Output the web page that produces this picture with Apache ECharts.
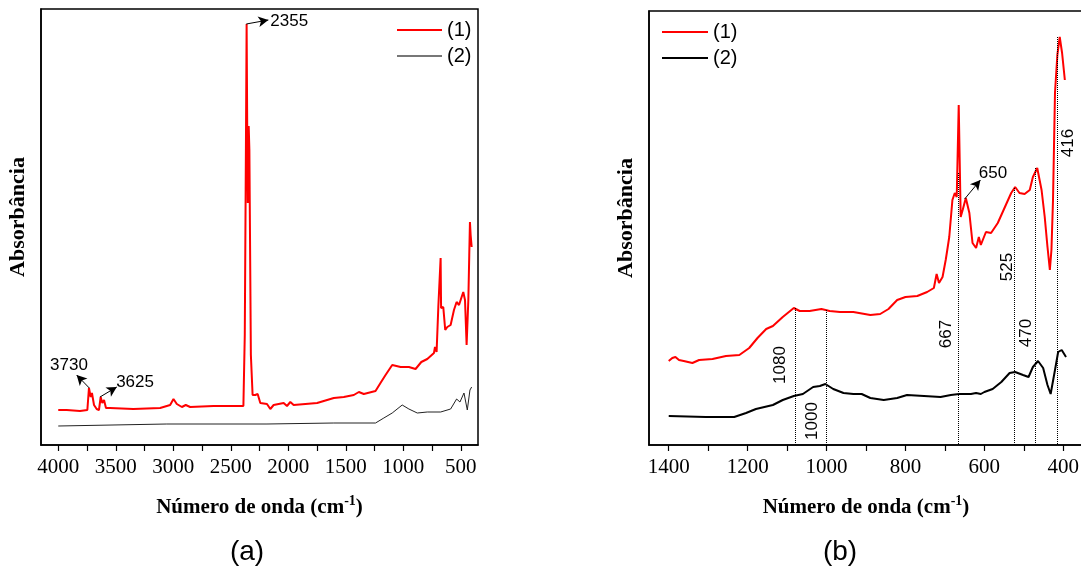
<!DOCTYPE html>
<html>
<head>
<meta charset="utf-8">
<script src="https://cdn.jsdelivr.net/npm/echarts@6/dist/echarts.min.js"></script>
<style>html,body{margin:0;padding:0;background:#fff}#c{width:1081px;height:568px}</style>
</head>
<body>
<div id="c"></div>
<script>
// ---------- DATA ----------
// Panel (a): wavenumber (cm-1) and absorbance (arbitrary units)
const aW1 = [4000,3927,3811,3747,3733,3718,3707,3689,3666,3646,3631,3617,3602,3585,3550,3347,3114,3027,2998,2969,2925,2891,2853,2650,2475,2390,2378,2368,2362,2356,2352,2347,2344,2338,2332,2325,2310,2287,2266,2243,2185,2156,2127,2040,2011,1982,1953,1749,1604,1517,1430,1386,1343,1241,1198,1154,1096,1023,951,893,843,791,733,724,710,695,686,679,675,671,652,635,617,588,559,536,515,501,478,463,449,434,426,420,414,405];
const aA1 = [35,35,34,35,57,48,52,40,36,35,48,42,45,37,37,36,37,40,46,41,38,40,38,39,39,39,110,300,421,300,242,300,319,295,200,90,50,50,51,42,41,36,40,42,39,43,40,42,47,48,50,53,51,54,62,70,80,78,78,76,83,86,92,98,93,138,140,140,187,137,138,115,118,120,135,143,140,142,153,145,100,145,190,223,210,198];
const aW2 = [4000,3056,2185,1604,1241,1169,1096,1009,951,878,791,675,588,536,507,472,443,420,405];
const aA2 = [19,21,21,22,22,27,32,40,36,32,33,33,36,46,43,52,35,55,58];
// Panel (b)
const bW1 = [1400,1391,1383,1374,1362,1340,1323,1289,1255,1221,1196,1175,1153,1136,1111,1083,1068,1043,1013,992,966,932,889,864,843,821,800,770,745,728,721,715,706,698,694,689,681,675,670,665,660,655,647,638,630,621,614,609,596,583,566,549,532,522,511,498,485,477,466,455,447,440,434,430,426,421,415,409,403,396];
const bA1 = [84,87,88,85,84,82,85,86,89,90,97,107,116,119,128,137,134,134,136,134,133,133,130,131,136,145,148,149,153,157,171,162,168,185,195,208,245,252,248,340,228,235,247,232,202,197,208,200,213,212,222,237,252,258,252,251,255,268,277,255,228,198,175,195,245,352,390,408,392,365];
const bW2 = [1400,1306,1234,1204,1179,1136,1111,1083,1060,1034,1017,1003,983,957,932,911,889,855,821,796,753,711,685,664,634,621,609,600,579,557,536,522,502,488,477,464,451,440,432,421,413,404,393];
const bA2 = [29,28,28,32,36,40,45,49,51,58,59,61,56,52,51,51,47,45,47,50,49,48,50,51,51,52,51,53,56,63,72,73,70,68,78,84,77,60,51,75,93,95,88];
// Tick labels
const aTicks = [4000,3750,3500,3250,3000,2750,2500,2250,2000,1750,1500,1250,1000,750,500];
const aLabels = [4000,3500,3000,2500,2000,1500,1000,500];
const bTicks = [1400,1300,1200,1100,1000,900,800,700,600,500,400];
const bLabels = [1400,1200,1000,800,600,400];
// Annotations (data coordinates)
const aArrows = [[[2365,421],[2173,425]],[[3730,57],[3840,70]],[[3637,48],[3491,58]]];
const aTexts = [{t:'2355',c:[2173,424],pos:'right'},{t:'3730',c:[3907,80],pos:'inside'},{t:'3625',c:[3332,63],pos:'inside'}];
const bArrows = [[[650,246],[610,265]]];
const bTexts = [{t:'650',c:[578,272],rot:0},{t:'1080',c:[1116,80],rot:90},{t:'1000',c:[1036,24],rot:90},{t:'667',c:[696,111],rot:90},{t:'525',c:[541,178],rot:90},{t:'470',c:[493,112],rot:90},{t:'416',c:[387,302],rot:90}];
const bPeakLines = [[1080,137],[1000,135],[667,272],[525,257],[470,277],[416,408]];

// ---------- CHART ----------
const zip = (w,a) => w.map((x,i)=>[x,a[i]]);
const SERIF = '"Liberation Serif", "Times New Roman", serif', SANS = '"Liberation Sans", Arial, sans-serif';
const chart = echarts.init(document.getElementById('c'), null, {renderer:'canvas'});

function xAxisCfg(gi, min, max, ticks, labels) {
  return {
    type:'value', gridIndex:gi, inverse:true, min:min, max:max,
    name:'{t|Número de onda (cm}{s|-1}{t|)}', nameLocation:'middle', nameGap:49,
    nameTextStyle:{rich:{t:{fontFamily:SERIF,fontWeight:'bold',fontSize:21,color:'#000'},
                         s:{fontFamily:SERIF,fontWeight:'bold',fontSize:14,color:'#000',padding:[0,0,14,0]}}},
    axisLine:{show:true,onZero:false,lineStyle:{color:'#000',width:1.5}},
    axisTick:{show:true,customValues:ticks,length:6,lineStyle:{color:'#000',width:1.2}},
    axisLabel:{show:true,customValues:labels,margin:12,fontFamily:SERIF,fontSize:21,color:'#000',
               formatter:v=>'{n|'+v+'}',
               rich:{n:{fontFamily:SERIF,fontSize:21,color:'#000'}}},
    splitLine:{show:false}
  };
}
function yAxisCfg(gi, max) {
  return {
    type:'value', gridIndex:gi, min:0, max:max,
    name:'Absorbância', nameLocation:'middle', nameGap:12,
    nameTextStyle:{fontFamily:SERIF,fontWeight:'bold',fontSize:22,color:'#000',padding:[0,0,0,20]},
    axisLine:{show:true,lineStyle:{color:'#000',width:1.5}},
    axisTick:{show:false}, axisLabel:{show:false}, splitLine:{show:false}
  };
}
const arrowLine = arr => ({
  silent:true, symbol:['none','arrow'], symbolSize:[8,10],
  label:{show:false}, lineStyle:{color:'#000',width:1,type:'solid'},
  data: arr.map(p=>[{coord:p[0]},{coord:p[1]}])
});
const textPoints = arr => ({
  silent:true, symbol:'circle', symbolSize:0,
  data: arr.map(o=>({name:o.t, coord:o.c,
    label:{show:true, formatter:'{b}', position:o.pos||'inside', distance:2, rotate:o.rot||0,
           fontFamily:SANS, fontSize:17, color:'#000'}}))
});

const option = {
  animation:false,
  backgroundColor:'#fff',
  textStyle:{fontFamily:SERIF},
  grid:[
    {left:41, top:9, width:437, height:436, show:true, borderColor:'#000', borderWidth:1.5, backgroundColor:'transparent', containLabel:false, outerBoundsMode:'none'},
    {left:649, top:11, width:434, height:434, show:true, borderColor:'#000', borderWidth:1.5, backgroundColor:'transparent', containLabel:false, outerBoundsMode:'none'}
  ],
  legend:[
    {left:392, top:15, orient:'vertical', icon:'rect', itemWidth:45, itemHeight:2, itemGap:6,
     textStyle:{fontFamily:SANS,fontSize:20,color:'#000'},
     data:[{name:'(1)',itemStyle:{color:'#ff0000'}},{name:'(2)',itemStyle:{color:'#777'}}]},
    {left:657, top:17, orient:'vertical', icon:'rect', itemWidth:46, itemHeight:2, itemGap:6,
     textStyle:{fontFamily:SANS,fontSize:20,color:'#000'},
     data:[{name:'(1)',itemStyle:{color:'#ff0000'}},{name:'(2)',itemStyle:{color:'#000'}}]}
  ],
  xAxis:[ xAxisCfg(0,350,4150,aTicks,aLabels), xAxisCfg(1,350,1450,bTicks,bLabels) ],
  yAxis:[ yAxisCfg(0,436), yAxisCfg(1,434) ],
  series:[
    {name:'(2)', type:'line', xAxisIndex:0, yAxisIndex:0, data:zip(aW2,aA2), showSymbol:false, symbol:'none',
     lineStyle:{color:'#222',width:1}, itemStyle:{color:'#777'}},
    {name:'(1)', type:'line', xAxisIndex:0, yAxisIndex:0, data:zip(aW1,aA1), showSymbol:false, symbol:'none',
     lineStyle:{color:'#ff0000',width:2}, itemStyle:{color:'#ff0000'},
     markLine:arrowLine(aArrows), markPoint:textPoints(aTexts)},
    {name:'(2)', type:'line', xAxisIndex:1, yAxisIndex:1, data:zip(bW2,bA2), showSymbol:false, symbol:'none',
     lineStyle:{color:'#000',width:2}, itemStyle:{color:'#000'},
     markLine:{silent:true, symbol:['none','none'], label:{show:false},
       lineStyle:{color:'#000',width:1,type:'dotted'},
       data:bPeakLines.map(p=>[{coord:[p[0],p[1]]},{coord:[p[0],0]}])}},
    {name:'(1)', type:'line', xAxisIndex:1, yAxisIndex:1, data:zip(bW1,bA1), showSymbol:false, symbol:'none',
     lineStyle:{color:'#ff0000',width:2}, itemStyle:{color:'#ff0000'},
     markLine:arrowLine(bArrows), markPoint:textPoints(bTexts)}
  ],
  graphic:[
    {type:'text', x:247, y:552, style:{text:'(a)', font:'28px "Liberation Sans"', fill:'#000', textAlign:'center', textVerticalAlign:'middle'}},
    {type:'text', x:840, y:552, style:{text:'(b)', font:'28px "Liberation Sans"', fill:'#000', textAlign:'center', textVerticalAlign:'middle'}}
  ]
};
chart.setOption(option);
</script>
</body>
</html>
